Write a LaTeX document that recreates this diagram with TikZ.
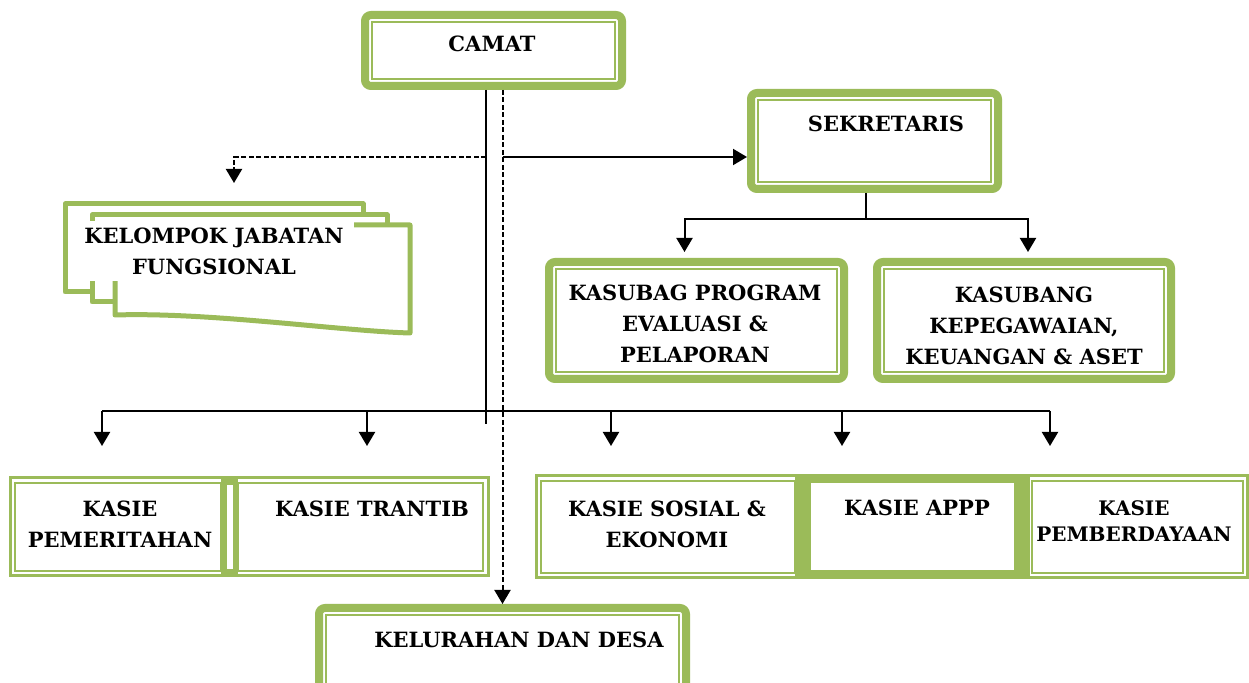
\documentclass[tikz,border=0pt]{standalone}
\usepackage{fontspec}
\setmainfont{DejaVu Serif}
\usetikzlibrary{arrows.meta}
\definecolor{boxgreen}{HTML}{9BBB59}
\tikzset{
every picture/.style={
line width=1pt
}}

\begin{document}
\begin{tikzpicture}[x=0.5pt, y=-0.5pt,
tip/.style = {-{Triangle[width=8pt,length=7pt]}},
dline/.style = {dash pattern=on 2.5pt off 1.25pt},
lbl/.style = {font=\bfseries\fontsize{10.5pt}{15.5pt}\selectfont, align=center, inner sep=0},
frame/.style = {path picture={\draw[boxgreen, line width=1.25pt, sharp corners] ([shift={(3.5pt,-3.5pt)}]path picture bounding box.north west) rectangle ([shift={(-3.5pt,3.5pt)}]path picture bounding box.south east);}},
box/.style = {rectangle, draw=boxgreen, line width=4pt, rounded corners=3pt, fill=white, inner sep=0, frame},
kasie/.style = {rectangle, draw=boxgreen, line width=1.25pt, fill=white, inner sep=0},
sheet/.style = {draw=boxgreen, line width=2.5pt, fill=white, line join=round}]

\useasboundingbox (0,0) rectangle (1249,683);
\clip (0,0) rectangle (1249,683);

\node[box, minimum width=128.5pt, minimum height=35.5pt] (camat) at (493.5,50.5) {};
\node[box, minimum width=123.5pt, minimum height=48pt] (sek) at (874.5,141) {};
\node[box, minimum width=147.5pt, minimum height=58.5pt] (prog) at (696.5,320.5) {};
\node[box, minimum width=147pt, minimum height=58.5pt] (keu) at (1024,320.5) {};
\node[box, minimum width=183.5pt, minimum height=46pt] (kel) at (502.5,654) {};

\draw[sheet] (65,204) rectangle (363,292);
\draw[sheet] (92,215) rectangle (387,302);
\draw[sheet] (115,315) -- (115,225) -- (410,225) -- (410,333) .. controls (340,331) and (210,312) .. (115,315) -- cycle;
\node[lbl, fill=white, minimum width=140pt, minimum height=30pt] (kjf) at (214,251) {KELOMPOK JABATAN\\FUNGSIONAL};

\draw[boxgreen, line width=1.5pt] (10,478) rectangle (488,576);
\fill[boxgreen] (221,478) rectangle (238,576);
\fill[white] (227,485) rectangle (233,569);
\node[kasie, minimum width=103pt, minimum height=44pt] (k1) at (118,527) {};
\node[kasie, minimum width=122.5pt, minimum height=44pt] (k2) at (360.5,527) {};

\draw[boxgreen, line width=1.5pt] (536,476) rectangle (1247,578);
\fill[boxgreen] (795,476) rectangle (1030,578);
\node[kasie, minimum width=127pt, minimum height=46pt] (k3) at (668,527) {};
\node[kasie, line width=4pt, minimum width=105.5pt, minimum height=47.5pt] (k4) at (912.5,526.5) {};
\node[kasie, minimum width=105.5pt, minimum height=46pt] (k5) at (1137.5,527) {};

\node[lbl] (tcamat) at (492,44) {CAMAT};
\node[lbl] (tsek) at (886,124) {SEKRETARIS};
\node[lbl] (tprog) at (695,324) {KASUBAG PROGRAM\\EVALUASI \&\\PELAPORAN};
\node[lbl] (tkeu) at (1024,326) {KASUBANG\\KEPEGAWAIAN,\\KEUANGAN \& ASET};
\node[lbl] (tk1) at (120,524) {KASIE\\PEMERITAHAN};
\node[lbl] (tk2) at (372,509) {KASIE TRANTIB};
\node[lbl] (tk3) at (667,524) {KASIE SOSIAL \&\\EKONOMI};
\node[lbl] (tk4) at (917,508) {KASIE APPP};
\node[lbl, font=\bfseries\fontsize{10pt}{13pt}\selectfont] (tk5) at (1134,521) {KASIE\\PEMBERDAYAAN};
\node[lbl] (tkel) at (519,640) {KELURAHAN DAN DESA};

\coordinate (trunk) at (486,424);
\coordinate (lvl1) at (0,157);
\coordinate (lvl2) at (0,411);
\coordinate (fjf) at (234,183);
\coordinate (fork) at (866,219);
\foreach \x/\n in {102/a1, 367/a2, 611/a3, 842/a4, 1050/a5}
  \coordinate (\n) at (\x,446);

\draw (camat.south -| trunk) -- (trunk);
\draw[dline, tip] (camat.south -| kel.north) -- (kel.north);
\draw[dline, tip] (trunk |- lvl1) -| (fjf);
\draw[tip] (kel.north |- lvl1) -- (sek.west |- lvl1);

\draw (sek.south -| fork) -- (fork);
\draw[tip] (fork) -| ([xshift=-6pt,yshift=3pt]prog.north);
\draw[tip] (fork) -| ([xshift=2pt,yshift=3pt]keu.north);

\draw (a1 |- lvl2) -- (a5 |- lvl2);
\foreach \n in {a1,a2,a3,a4,a5}
  \draw[tip] (\n |- lvl2) -- (\n);
\end{tikzpicture}
\end{document}
